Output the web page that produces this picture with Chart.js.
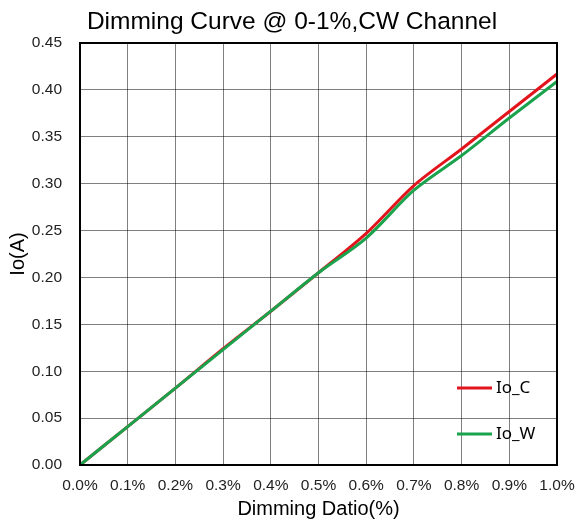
<!DOCTYPE html>
<html>
<head>
<meta charset="utf-8">
<script src="https://cdn.jsdelivr.net/npm/chart.js@4/dist/chart.umd.min.js"></script>
<style>
  html, body { margin: 0; padding: 0; background: #fff; }
  #wrap { width: 579px; height: 522px; }
</style>
</head>
<body>
<div id="wrap"><canvas id="c" width="579" height="522"></canvas></div>
<script>
// Dimming ratio ticks (percent) and measured output current (A)
const dimmingLabels = ['0.0%', '0.1%', '0.2%', '0.3%', '0.4%', '0.5%', '0.6%', '0.7%', '0.8%', '0.9%', '1.0%'];
const ioC = [0, 0.041, 0.082, 0.124, 0.164, 0.205, 0.247, 0.298, 0.337, 0.377, 0.417];
const ioW = [0, 0.041, 0.082, 0.123, 0.164, 0.205, 0.242, 0.293, 0.330, 0.370, 0.409];
const chartTitle = 'Dimming Curve @ 0-1%,CW Channel';

const RED = 'rgb(226,20,28)';
const GREEN = 'rgb(26,163,76)';
const AXIS_FONT = 'Liberation Sans, Arial, sans-serif';

// Title line above the plot
const topTitle = {
  id: 'topTitle',
  afterDraw(chart) {
    const { ctx } = chart;
    ctx.save();
    ctx.font = '24.5px ' + AXIS_FONT;
    ctx.fillStyle = '#000';
    ctx.textAlign = 'center';
    ctx.textBaseline = 'alphabetic';
    ctx.fillText(chartTitle, 292, 29);
    ctx.restore();
  }
};

// Black frame around the plot area
const frame = {
  id: 'frame',
  afterDatasetsDraw(chart) {
    const { ctx, chartArea: a } = chart;
    ctx.save();
    ctx.strokeStyle = '#000';
    ctx.lineWidth = 2;
    ctx.strokeRect(a.left, a.top, a.right - a.left, a.bottom - a.top);
    ctx.restore();
  }
};

// Legend drawn inside the plot, lower right
const innerLegend = {
  id: 'innerLegend',
  afterDraw(chart) {
    const { ctx, chartArea: a } = chart;
    const items = chart.data.datasets.map(d => ({ text: d.label, color: d.borderColor }));
    const x0 = a.right - 100, lineLen = 35;
    const ys = [a.bottom - 77, a.bottom - 31];
    ctx.save();
    ctx.font = '17px "Noto Sans", sans-serif';
    ctx.textBaseline = 'middle';
    ctx.fillStyle = '#000';
    items.forEach((it, i) => {
      ctx.strokeStyle = it.color;
      ctx.lineWidth = 3;
      ctx.beginPath();
      ctx.moveTo(x0, ys[i]);
      ctx.lineTo(x0 + lineLen, ys[i]);
      ctx.stroke();
      ctx.fillText(it.text, x0 + lineLen + 4, ys[i]);
    });
    ctx.restore();
  }
};

new Chart(document.getElementById('c'), {
  type: 'line',
  data: {
    labels: dimmingLabels,
    datasets: [
      { label: 'Io_C', data: ioC, borderColor: RED, backgroundColor: RED, borderWidth: 3, pointRadius: 0, tension: 0.3, order: 1 },
      { label: 'Io_W', data: ioW, borderColor: GREEN, backgroundColor: GREEN, borderWidth: 3, pointRadius: 0, tension: 0.3, order: 0 }
    ]
  },
  options: {
    responsive: false,
    animation: false,
    layout: { padding: { left: 0, right: 22, top: 43, bottom: 0 } },
    plugins: {
      legend: { display: false },
      tooltip: { enabled: false },
      title: { display: false }
    },
    scales: {
      x: {
        type: 'category',
        offset: false,
        afterFit: s => { s.height = 57; s.paddingLeft = 0; s.paddingRight = 0; },
        grid: { color: 'rgba(0,0,0,0.5)', lineWidth: 1, drawTicks: false },
        border: { color: '#000', width: 2 },
        ticks: { color: '#222', font: { family: AXIS_FONT, size: 15.5 }, padding: 11, maxRotation: 0, autoSkip: false },
        title: { display: true, text: 'Dimming Datio(%)', color: '#000', font: { family: AXIS_FONT, size: 20 }, padding: { top: 0, bottom: 1 } }
      },
      y: {
        min: 0,
        max: 0.45,
        afterFit: s => { s.width = 80; s.paddingTop = 0; s.paddingBottom = 0; },
        grid: { color: 'rgba(0,0,0,0.5)', lineWidth: 1, drawTicks: false },
        border: { color: '#000', width: 2 },
        ticks: { stepSize: 0.05, color: '#222', font: { family: AXIS_FONT, size: 15.5 }, padding: 18,
                 callback: v => v.toFixed(2) },
        title: { display: true, text: 'Io(A)', color: '#000', font: { family: AXIS_FONT, size: 20 }, padding: { top: 6, bottom: 0 } }
      }
    }
  },
  plugins: [topTitle, frame, innerLegend]
});
</script>
</body>
</html>
